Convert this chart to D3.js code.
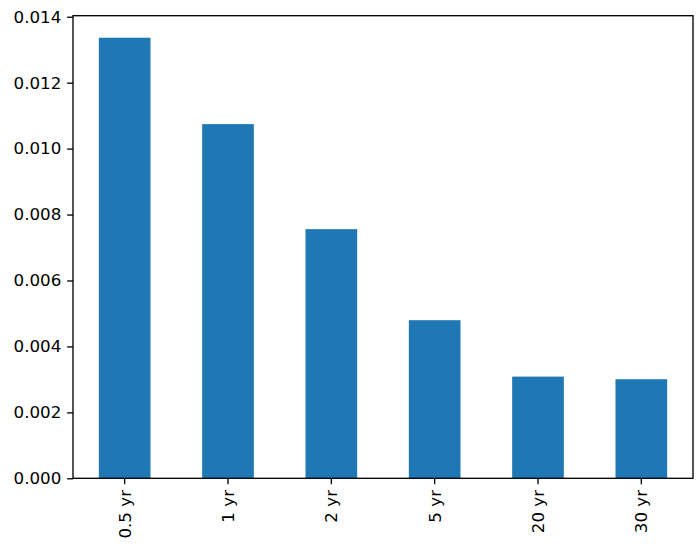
<!DOCTYPE html>
<html>
<head>
<meta charset="utf-8">
<script src="https://cdn.jsdelivr.net/npm/d3@7"></script>
<style>
html,body{margin:0;padding:0;background:#fff;}
svg{display:block;}
</style>
</head>
<body>
<svg id="chart" width="700" height="546"></svg>
<script>
const categories = ["0.5 yr", "1 yr", "2 yr", "5 yr", "20 yr", "30 yr"];
const values = [0.013363, 0.010743, 0.007557, 0.004795, 0.003084, 0.003005];
const yTicks = [0.000, 0.002, 0.004, 0.006, 0.008, 0.010, 0.012, 0.014];

const svg = d3.select("#chart");
const margin = {left: 73, right: 7, top: 15.7, bottom: 67.7};
const W = 700, H = 546;
const x0 = margin.left, x1 = W - margin.right, y0 = H - margin.bottom, y1 = margin.top;

const x = d3.scaleBand().domain(categories).range([x0, x1]).paddingInner(0.5).paddingOuter(0.25);
const ymax = d3.max(values) * 1.05;
const y = d3.scaleLinear().domain([0, ymax]).range([y0, y1]);

svg.append("g").selectAll("rect").data(values).join("rect")
  .attr("x", (d, i) => x(categories[i]))
  .attr("width", x.bandwidth())
  .attr("y", d => y(d))
  .attr("height", d => y(0) - y(d))
  .attr("fill", "#1f77b4");

const fs = 16.7, tl = 5.83, lw = 1.33;
const yAxis = d3.axisLeft(y).tickValues(yTicks).tickFormat(d3.format(".3f")).tickSize(tl).tickPadding(tl);
const gy = svg.append("g").attr("transform", `translate(${x0},0)`).call(yAxis)
  .attr("font-family", "DejaVu Sans").attr("font-size", fs);
gy.select(".domain").remove();
gy.selectAll(".tick line").attr("stroke", "#000").attr("stroke-width", lw);
gy.selectAll(".tick text").attr("fill", "#000");

const xAxis = d3.axisBottom(x).tickSize(tl).tickPadding(tl);
const gx = svg.append("g").attr("transform", `translate(0,${y0})`).call(xAxis)
  .attr("font-family", "DejaVu Sans").attr("font-size", fs);
gx.select(".domain").remove();
gx.selectAll(".tick line").attr("stroke", "#000").attr("stroke-width", lw);
gx.selectAll(".tick text").attr("fill", "#000")
  .attr("transform", "rotate(-90)")
  .attr("text-anchor", "end")
  .attr("x", -(tl * 2)).attr("y", 0).attr("dy", "0.35em");

svg.append("rect").attr("x", x0).attr("y", y1).attr("width", x1 - x0).attr("height", y0 - y1)
  .attr("fill", "none").attr("stroke", "#000").attr("stroke-width", lw);
</script>
</body>
</html>
